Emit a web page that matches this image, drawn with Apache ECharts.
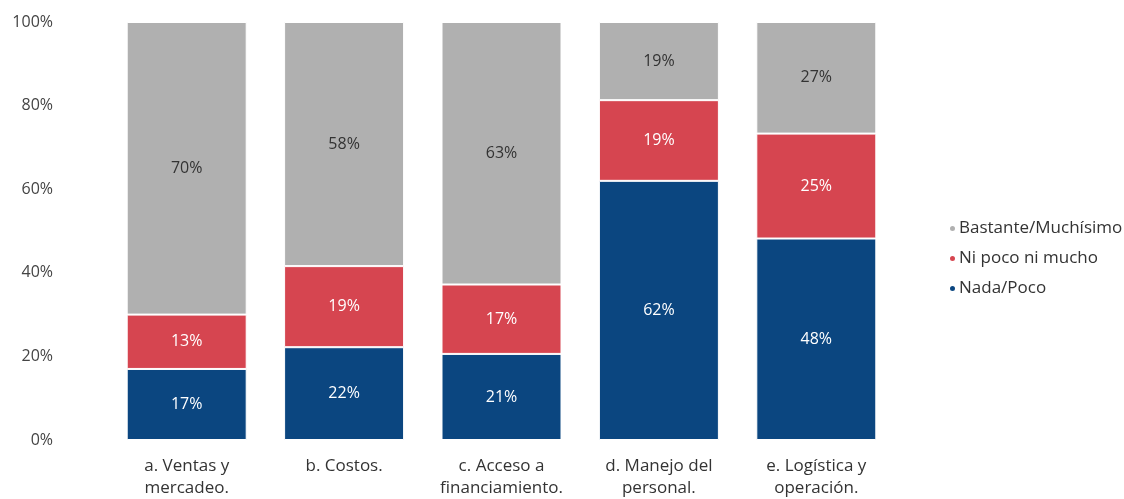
<!DOCTYPE html>
<html><head><meta charset="utf-8">
<script src="https://cdn.jsdelivr.net/npm/echarts@6/dist/echarts.min.js"></script>
<style>html,body{margin:0;padding:0;background:#fff}#c{width:1124px;height:499px}</style>
</head><body><div id="c"></div>
<script>
const categories = ['a. Ventas y\nmercadeo.', 'b. Costos.', 'c. Acceso a\nfinanciamiento.', 'd. Manejo del\npersonal.', 'e. Logística y\noperación.'];
const nadaPoco = [17.0, 22.2, 20.6, 62.0, 48.2];
const niPocoNiMucho = [13.0, 19.4, 16.6, 19.3, 25.1];
const bastante = [70.0, 58.4, 62.8, 18.7, 26.7];
const yTicks = [0, 20, 40, 60, 80, 100];

const FONT = '"Open Sans", "Noto Sans", sans-serif';
const chart = echarts.init(document.getElementById('c'));
function mk(name, data, color, labelColor) {
  return {
    name, type: 'bar', stack: 'total', data, barWidth: 120,
    itemStyle: { color, borderColor: '#ffffff', borderWidth: 1 },
    label: { show: true, position: 'inside', color: labelColor, fontSize: 16, fontFamily: FONT,
      formatter: p => Math.round(p.value) + '%' }
  };
}
chart.setOption({
  animation: false,
  grid: { left: 108, right: 229, top: 22, bottom: 58 },
  legend: {
    orient: 'vertical', left: 943, top: 215, itemGap: 13, icon: 'circle', itemWidth: 7, itemHeight: 7,
    textStyle: { fontSize: 17, color: '#333', fontFamily: FONT, padding: [0, 0, 0, -2] },
    data: ['Bastante/Muchísimo', 'Ni poco ni mucho', 'Nada/Poco']
  },
  xAxis: {
    type: 'category', data: categories,
    axisLine: { show: false }, axisTick: { show: false },
    axisLabel: { fontSize: 17, color: '#333', fontFamily: FONT, lineHeight: 22, margin: 15, interval: 0 }
  },
  yAxis: {
    type: 'value', min: yTicks[0], max: yTicks[yTicks.length - 1], interval: 20,
    splitLine: { show: false }, axisLine: { show: false }, axisTick: { show: false },
    axisLabel: { fontSize: 16, color: '#444', fontFamily: FONT, margin: 55, formatter: v => v + '%' }
  },
  series: [
    mk('Nada/Poco', nadaPoco, '#0B4680', '#ffffff'),
    mk('Ni poco ni mucho', niPocoNiMucho, '#D64550', '#ffffff'),
    mk('Bastante/Muchísimo', bastante, '#B0B0B0', '#333333')
  ]
});
</script></body></html>
